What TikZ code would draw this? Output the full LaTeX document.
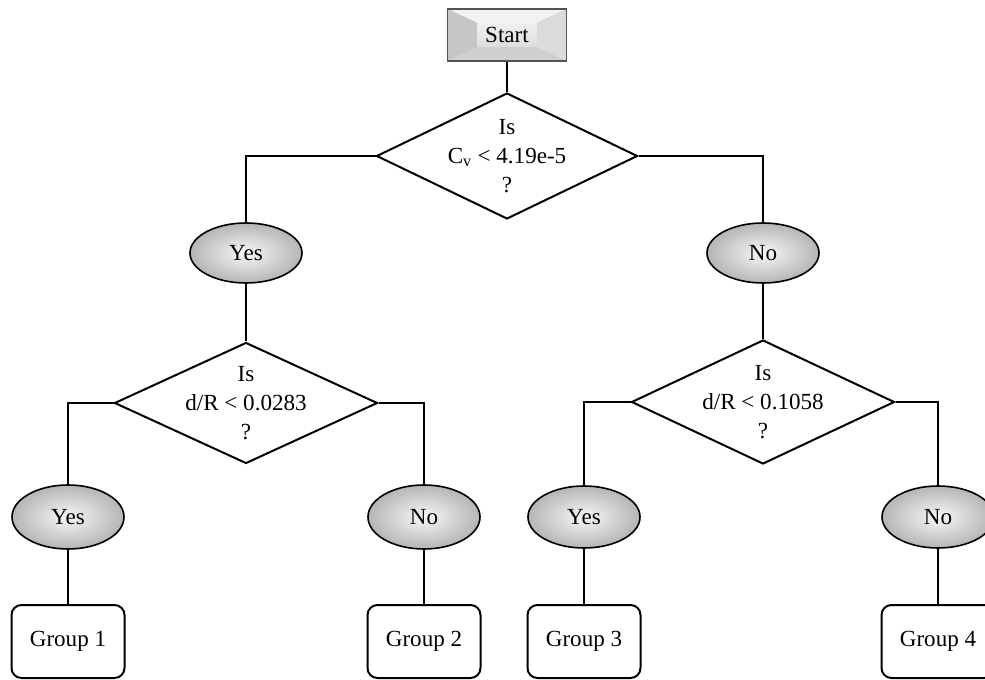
\documentclass[tikz,border=0pt]{standalone}
\usepackage{fontspec}
\setmainfont{Liberation Serif}
\usetikzlibrary{shapes.geometric,calc}
\newdimen\pxu
\pxu=0.75pt
\begin{document}
\begin{tikzpicture}[x=0.75pt,y=-0.75pt,
  every node/.style={font=\fontsize{17.3}{21.75}\selectfont},
  conn/.style={line width=1.5pt,black},
  decision/.style={diamond,draw=black,line width=1.5pt,inner sep=0pt,fill=white},
  qtext/.style={align=center,inner sep=0pt},
  answer/.style={ellipse,draw=black,line width=1.2pt,inner sep=0pt,
    minimum width=112\pxu,minimum height=62\pxu,
    inner color=gray!6,outer color=gray!58},
  groupbox/.style={rectangle,draw=black,line width=1.5pt,rounded corners=7.5pt,
    minimum width=113\pxu,minimum height=73\pxu,inner sep=0pt,fill=white},
  startbox/.style={rectangle,draw=gray!65!black,line width=0.8pt,
    minimum width=119\pxu,minimum height=52\pxu,inner sep=0pt}
]
\clip (0,0) rectangle (985,680);
\fill[white] (0,0) rectangle (985,680);
% bevel of the start box
\fill[gray!22] (447.5,9) rectangle (566.5,61);
\fill[gray!10] (447.5,9) -- (566.5,9) -- (536.5,23) -- (477.5,23) -- cycle;
\fill[gray!45] (447.5,9) -- (477.5,23) -- (477.5,47) -- (447.5,61) -- cycle;
\fill[gray!28] (566.5,9) -- (566.5,61) -- (536.5,47) -- (536.5,23) -- cycle;
\fill[gray!38] (447.5,61) -- (477.5,47) -- (536.5,47) -- (566.5,61) -- cycle;
\shade[top color=gray!12,bottom color=gray!26] (477.5,23) rectangle (536.5,47);
\node[startbox] (start) at (507,35) {Start};

% decisions
\node[decision,minimum width=261\pxu,minimum height=126\pxu] (d1) at (507,156) {};
\node[qtext] (t1) at (d1) {Is\\C\textsubscript{v} < 4.19e-5\\?};
\node[decision,minimum width=263\pxu,minimum height=121\pxu] (d2) at (246,403) {};
\node[qtext] (t2) at (d2) {Is\\d/R < 0.0283\\?};
\node[decision,minimum width=263\pxu,minimum height=124\pxu] (d3) at (763,402) {};
\node[qtext] (t3) at (d3) {Is\\d/R < 0.1058\\?};

% answers
\node[answer,minimum height=60\pxu] (y1) at (246,253) {Yes};
\node[answer,minimum height=60\pxu] (n1) at (763,253) {No};
\node[answer,minimum height=64\pxu] (y2) at (68,517) {Yes};
\node[answer,minimum height=64\pxu] (n2) at (424,517) {No};
\node[answer,minimum height=62\pxu] (y3) at (584,517) {Yes};
\node[answer,minimum height=62\pxu] (n3) at (938,517) {No};

% groups
\node[groupbox] (g1) at (68,641.5) {Group 1};
\node[groupbox] (g2) at (424,641.5) {Group 2};
\node[groupbox] (g3) at (584,641.5) {Group 3};
\node[groupbox] (g4) at (938,641.5) {Group 4};

% connectors
\draw[conn] (start.south) -- (d1.north);
\draw[conn] (d1.west) -| (y1.north);
\draw[conn] (d1.east) -| (n1.north);
\draw[conn] (y1.south) -- (d2.north);
\draw[conn] (n1.south) -- (d3.north);
\draw[conn] (d2.west) -| (y2.north);
\draw[conn] (d2.east) -| (n2.north);
\draw[conn] (d3.west) -| (y3.north);
\draw[conn] (d3.east) -| (n3.north);
\draw[conn] (y2.south) -- (g1.north);
\draw[conn] (n2.south) -- (g2.north);
\draw[conn] (y3.south) -- (g3.north);
\draw[conn] (n3.south) -- (g4.north);
\end{tikzpicture}
\end{document}
